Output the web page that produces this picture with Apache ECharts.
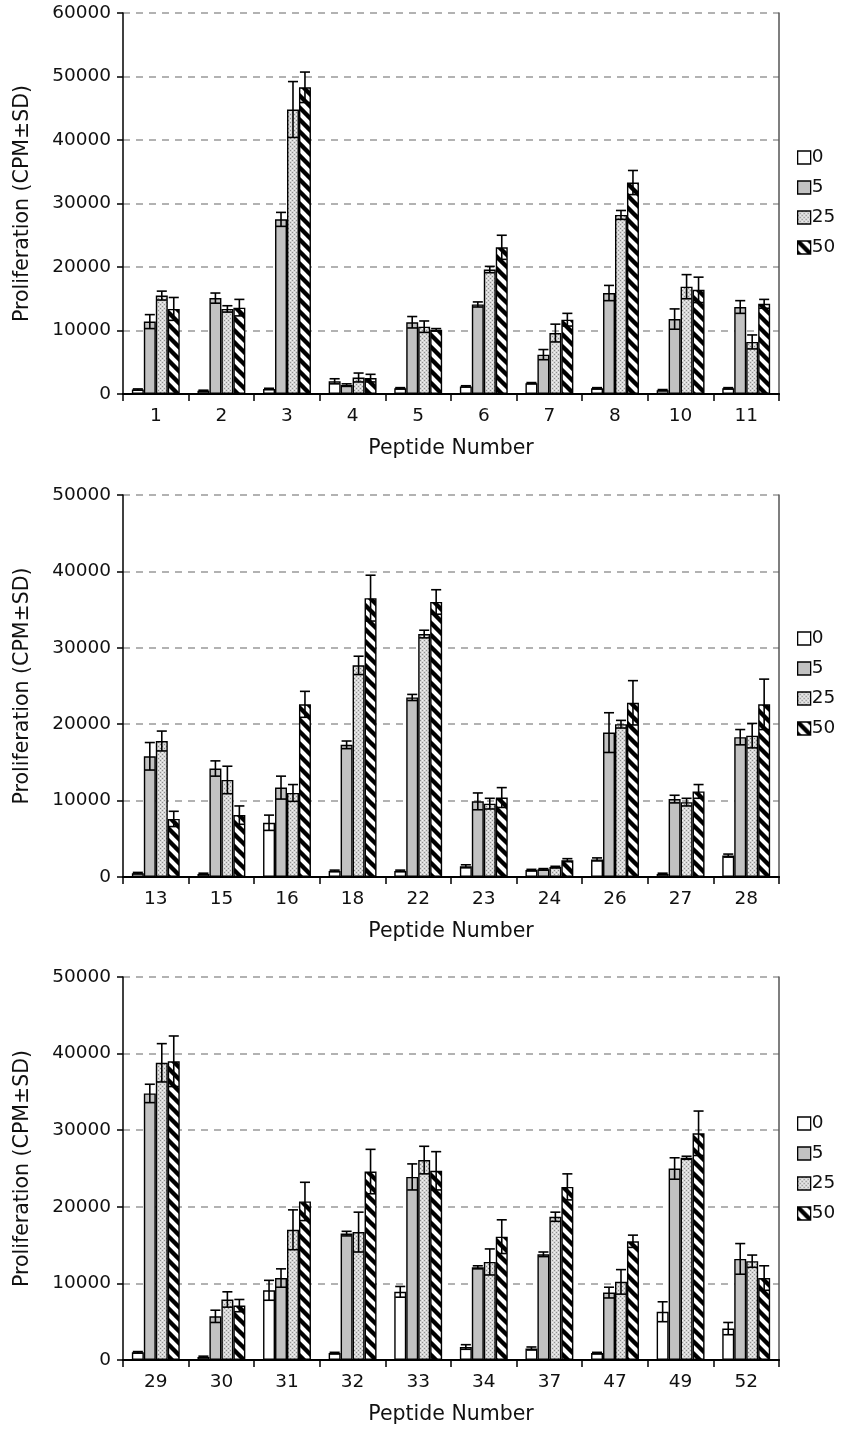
<!DOCTYPE html>
<html><head><meta charset="utf-8">
<script src="https://cdn.jsdelivr.net/npm/echarts@6/dist/echarts.min.js"></script>
<style>html,body{margin:0;padding:0;background:#fff}#c{width:843px;height:1432px}</style>
</head><body><div id="c"></div>
<script>
const doses = ['0', '5', '25', '50'];
const cats1 = ['1','2','3','4','5','6','7','8','10','11'];
const cats2 = ['13','15','16','18','22','23','24','26','27','28'];
const cats3 = ['29','30','31','32','33','34','37','47','49','52'];
const yMax = [60000, 50000, 50000];
const yTicks = 10000;

// Panel 1
const p1_d0  = [700, 500, 800, 2000, 900, 1200, 1700, 900, 600, 900];
const p1_sd0 = [100, 100, 100, 400, 100, 100, 100, 100, 100, 100];
const p1_d5  = [11400, 15100, 27500, 1400, 11300, 14100, 6200, 15900, 11800, 13700];
const p1_sd5 = [1100, 800, 1100, 200, 900, 400, 800, 1200, 1600, 1000];
const p1_d25  = [15500, 13400, 44800, 2600, 10600, 19600, 9600, 28200, 16900, 8200];
const p1_sd25 = [700, 500, 4400, 700, 900, 500, 1400, 700, 1900, 1100];
const p1_d50  = [13400, 13600, 48300, 2500, 10100, 23100, 11700, 33300, 16400, 14200];
const p1_sd50 = [1800, 1300, 2400, 600, 200, 1900, 1000, 1900, 2000, 700];
// Panel 2
const p2_d0  = [500, 400, 7100, 800, 800, 1400, 900, 2300, 400, 2800];
const p2_sd0 = [100, 100, 1000, 100, 100, 200, 100, 200, 100, 200];
const p2_d5  = [15800, 14200, 11700, 17300, 23500, 9900, 1000, 18900, 10200, 18300];
const p2_sd5 = [1800, 1000, 1500, 500, 400, 1100, 100, 2600, 500, 1000];
const p2_d25  = [17800, 12700, 11000, 27700, 31800, 9600, 1300, 20000, 9800, 18500];
const p2_sd25 = [1300, 1800, 1100, 1200, 500, 700, 100, 500, 500, 1600];
const p2_d50  = [7600, 8100, 22600, 36500, 36000, 10400, 2200, 22800, 11200, 22600];
const p2_sd50 = [1000, 1200, 1700, 3000, 1600, 1300, 200, 2900, 900, 3300];
// Panel 3
const p3_d0  = [1000, 400, 9100, 900, 8900, 1700, 1500, 900, 6300, 4100];
const p3_sd0 = [100, 100, 1300, 100, 700, 300, 200, 100, 1300, 800];
const p3_d5  = [34800, 5700, 10700, 16500, 23900, 12100, 13800, 8800, 25000, 13200];
const p3_sd5 = [1200, 800, 1200, 300, 1700, 200, 300, 700, 1400, 2000];
const p3_d25  = [38800, 7900, 17000, 16700, 26100, 12800, 18700, 10200, 26400, 12900];
const p3_sd25 = [2500, 1000, 2600, 2600, 1800, 1700, 600, 1600, 200, 800];
const p3_d50  = [39000, 7100, 20700, 24600, 24700, 16100, 22600, 15500, 29600, 10700];
const p3_sd50 = [3300, 800, 2500, 2900, 2500, 2200, 1700, 800, 2900, 1600];

const panels = [
  {cats: cats1, vals: [p1_d0, p1_d5, p1_d25, p1_d50], sds: [p1_sd0, p1_sd5, p1_sd25, p1_sd50]},
  {cats: cats2, vals: [p2_d0, p2_d5, p2_d25, p2_d50], sds: [p2_sd0, p2_sd5, p2_sd25, p2_sd50]},
  {cats: cats3, vals: [p3_d0, p3_d5, p3_d25, p3_d50], sds: [p3_sd0, p3_sd5, p3_sd25, p3_sd50]}
];

// patterns
function dotPattern() {
  const c = document.createElement('canvas'); c.width = 4; c.height = 4;
  const g = c.getContext('2d');
  g.fillStyle = '#d6d6d6'; g.fillRect(0, 0, 4, 4);
  g.fillStyle = '#8e8e8e'; g.fillRect(0, 0, 1, 1); g.fillRect(2, 2, 1, 1);
  g.fillStyle = '#f4f4f4'; g.fillRect(2, 0, 1, 1); g.fillRect(0, 2, 1, 1);
  return c;
}
function stripePattern() {
  const s = 12;
  const c = document.createElement('canvas'); c.width = s; c.height = s;
  const g = c.getContext('2d');
  g.fillStyle = '#ffffff'; g.fillRect(0, 0, s, s);
  g.strokeStyle = '#000'; g.lineWidth = 4.4; g.lineCap = 'square';
  [[-s, 0], [0, 0], [0, -s]].forEach(([ox, oy]) => {
    g.beginPath(); g.moveTo(ox - 2, oy - 2); g.lineTo(ox + s + 2, oy + s + 2); g.stroke();
  });
  return c;
}
const fills = ['#ffffff', '#c2c2c2', {image: dotPattern(), repeat: 'repeat'}, {image: stripePattern(), repeat: 'repeat'}];

const CAT_GAP = 0.27;
const font = 'DejaVu Sans, Verdana, sans-serif';
const FS = 18.5;
const FT = 20.5;
const TXT = '#111';
const gridTops = [13, 495, 977];
const gridHeights = [381, 382, 383];
const legendTops = [148, 629, 1114];

const grid = [], xAxis = [], yAxis = [], series = [], legend = [];
panels.forEach((p, i) => {
  grid.push({left: 123, width: 656, top: gridTops[i], height: gridHeights[i]});
  xAxis.push({
    type: 'category', gridIndex: i, data: p.cats, position: 'bottom',
    axisLine: {lineStyle: {color: '#000', width: 1.5}},
    axisTick: {show: true, interval: 0, length: 7, lineStyle: {color: '#000', width: 1.5}},
    axisLabel: {fontSize: FS, color: TXT, margin: 13, fontFamily: font, interval: 0},
    name: 'Peptide Number', nameLocation: 'middle', nameGap: 44,
    nameTextStyle: {fontSize: FT, color: TXT, fontFamily: font}
  });
  xAxis.push({
    type: 'category', gridIndex: i, data: p.cats, position: 'top',
    axisLine: {lineStyle: {color: '#000', width: 2}},
    axisTick: {show: false}, axisLabel: {show: false}
  });
  yAxis.push({
    type: 'value', gridIndex: i, min: 0, max: yMax[i], interval: yTicks, position: 'left',
    axisLine: {show: true, lineStyle: {color: '#000', width: 1.5}},
    axisTick: {show: true, length: 6, lineStyle: {color: '#000', width: 1.5}},
    axisLabel: {fontSize: FS, color: TXT, margin: 12, fontFamily: font, formatter: v => String(v)},
    splitLine: {show: true, lineStyle: {color: '#999', type: [7, 6], width: 1.5}},
    name: 'Proliferation (CPM±SD)', nameLocation: 'middle', nameGap: 90,
    nameTextStyle: {fontSize: FT, color: TXT, fontFamily: font}
  });
  yAxis.push({
    type: 'value', gridIndex: i, min: 0, max: yMax[i], interval: yTicks, position: 'right',
    axisLine: {show: true, lineStyle: {color: '#555', width: 1.5}},
    axisTick: {show: false}, axisLabel: {show: false}, splitLine: {show: false}
  });
  doses.forEach((d, k) => {
    series.push({
      type: 'bar', name: d, xAxisIndex: i * 2, yAxisIndex: i * 2,
      data: p.vals[k], barGap: '0%', barCategoryGap: (CAT_GAP * 100) + '%',
      itemStyle: {color: fills[k], borderColor: '#000', borderWidth: 1.4},
      emphasis: {disabled: true}, animation: false
    });
  });
  const errData = [];
  doses.forEach((d, k) => {
    p.vals[k].forEach((v, j) => errData.push([j, v, p.sds[k][j], k]));
  });
  series.push({
    type: 'custom', xAxisIndex: i * 2, yAxisIndex: i * 2, data: errData, z: 10,
    animation: false, silent: true,
    renderItem: function (params, api) {
      const x = api.value(0), v = api.value(1), sd = api.value(2), k = api.value(3);
      const band = api.size([1, 0])[0];
      const used = band * (1 - CAT_GAP);
      const bw = used / 4;
      const cx = api.coord([x, v])[0] - used / 2 + bw * (k + 0.5);
      const yT = api.coord([x, v + sd])[1];
      const yB = api.coord([x, Math.max(0, v - sd)])[1];
      const hw = bw * 0.42;
      const st = {stroke: '#000', lineWidth: 1.6};
      return {type: 'group', children: [
        {type: 'line', shape: {x1: cx, y1: yT, x2: cx, y2: yB}, style: st},
        {type: 'line', shape: {x1: cx - hw, y1: yT, x2: cx + hw, y2: yT}, style: st},
        {type: 'line', shape: {x1: cx - hw, y1: yB, x2: cx + hw, y2: yB}, style: st}
      ]};
    }
  });
  legend.push({
    data: doses, orient: 'vertical', left: 797, top: legendTops[i], padding: 0,
    itemWidth: 13, itemHeight: 13, itemGap: 11, selectedMode: false, icon: 'rect',
    itemStyle: {borderColor: '#000', borderWidth: 1.3},
    textStyle: {fontSize: FS, color: TXT, fontFamily: font, padding: [0, 0, 0, -4]}
  });
});

const chart = echarts.init(document.getElementById('c'), null, {renderer: 'canvas'});
chart.setOption({animation: false, backgroundColor: '#fff', grid, xAxis, yAxis, series, legend});
</script>
</body></html>
